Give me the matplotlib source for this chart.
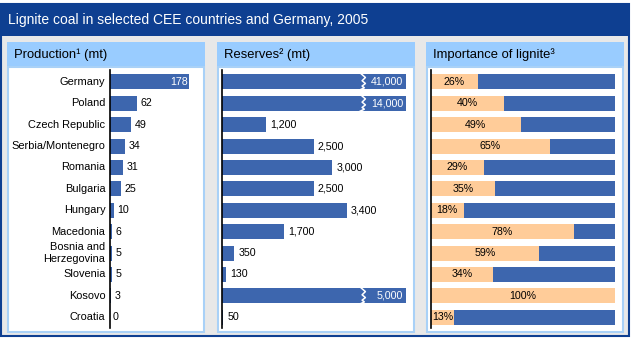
import matplotlib.pyplot as plt
from matplotlib.patches import Rectangle
from matplotlib.lines import Line2D

plt.rcParams['font.family'] = ['Liberation Sans', 'DejaVu Sans']

countries = ['Germany', 'Poland', 'Czech Republic', 'Serbia/Montenegro', 'Romania',
             'Bulgaria', 'Hungary', 'Macedonia', 'Bosnia and\nHerzegovina', 'Slovenia',
             'Kosovo', 'Croatia']
production = [178, 62, 49, 34, 31, 25, 10, 6, 5, 5, 3, 0]
reserves = [41000, 14000, 1200, 2500, 3000, 2500, 3400, 1700, 350, 130, 5000, 50]
importance = [26, 40, 49, 65, 29, 35, 18, 78, 59, 34, 100, 13]

title = 'Lignite coal in selected CEE countries and Germany, 2005'
headers = ['Production\u00b9 (mt)', 'Reserves\u00b2 (mt)', 'Importance of lignite\u00b3']

W, H = 631, 339
dark = '#0E3F91'
blue = '#3D66AE'
orange = '#FFCC99'
head = '#99CCFF'
edge = '#A9D1F7'
grey = '#E8E8E8'

fig = plt.figure(figsize=(W / 100, H / 100), dpi=100)
fig.patch.set_facecolor('white')


def box(x0, y0, x1, y1, **kw):
    # pixel coords (top-left origin) -> figure fraction rectangle, behind the axes
    r = Rectangle((x0 / W, 1 - y1 / H), (x1 - x0) / W, (y1 - y0) / H,
                  transform=fig.transFigure, zorder=-5, **kw)
    fig.add_artist(r)


def ax_at(x0, y0, x1, y1):
    return fig.add_axes([x0 / W, 1 - y1 / H, (x1 - x0) / W, (y1 - y0) / H])


# frame, grey background, title bar
box(1, 4, 629, 336, facecolor=grey, edgecolor=dark, lw=1.5)
box(1, 4, 629, 36, facecolor=dark, edgecolor='none')
fig.text(8 / W, 1 - 20 / H, title, color='white', fontsize=10, va='center')

panels = [(7, 205), (217, 415), (426, 624)]
for (x0, x1), h in zip(panels, headers):
    box(x0, 42, x1, 67, facecolor=head, edgecolor='none')
    box(x0 + 1, 67, x1 - 1, 331.5, facecolor='white', edgecolor=edge, lw=1.5)
    fig.text((x0 + 7) / W, 1 - 54.5 / H, h, fontsize=9.4, va='center')

rows = range(len(countries))
fs = 7.7


def setup(ax):
    ax.set_facecolor('none')
    ax.set_ylim(11.5, -0.55)
    for s in ['top', 'right', 'bottom']:
        ax.spines[s].set_visible(False)
    ax.spines['left'].set_linewidth(1.2)
    ax.set_xticks([])
    ax.set_yticks([])


# Production
ax1 = ax_at(109.5, 70, 203, 328)
setup(ax1)
ax1.set_xlim(0, 209)
ax1.barh(rows, production, height=0.7, color=blue)
for i, (c, v) in enumerate(zip(countries, production)):
    ax1.text(-9, i, c, ha='right', va='center', fontsize=7.9, linespacing=1.15)
    if v > 100:
        ax1.text(v - 3, i, str(v), ha='right', va='center', color='white', fontsize=fs)
    else:
        ax1.text(v + 8, i, str(v), ha='left', va='center', fontsize=fs)

# Reserves
cap = 5000
ax2 = ax_at(221.5, 70, 406, 328)
setup(ax2)
ax2.set_xlim(0, cap)
ax2.barh(rows, [min(v, cap) for v in reserves], height=0.7, color=blue)
for i, v in enumerate(reserves):
    lab = f'{v:,}'
    if v >= cap:
        ax2.text(cap - 70, i, lab, ha='right', va='center', color='white', fontsize=fs)
        xb = 3840
        zx = [xb - 60, xb + 60, xb - 30, xb + 60, xb - 30, xb + 30, xb - 90]
        zy = [i - 0.38, i - 0.2, i - 0.05, i + 0.08, i + 0.2, i + 0.28, i + 0.38]
        ax2.add_line(Line2D(zx, zy, color='white', lw=1.1))
    else:
        ax2.text(v + 110, i, lab, ha='left', va='center', fontsize=fs)

# Importance
ax3 = ax_at(430.5, 70, 615, 328)
setup(ax3)
ax3.set_xlim(0, 100)
ax3.barh(rows, [100] * len(importance), height=0.7, color=blue)
ax3.barh(rows, importance, height=0.7, color=orange)
for i, v in enumerate(importance):
    ax3.text(v / 2, i, f'{v}%', ha='center', va='center', fontsize=fs)

fig.savefig('out.png', dpi=100)
